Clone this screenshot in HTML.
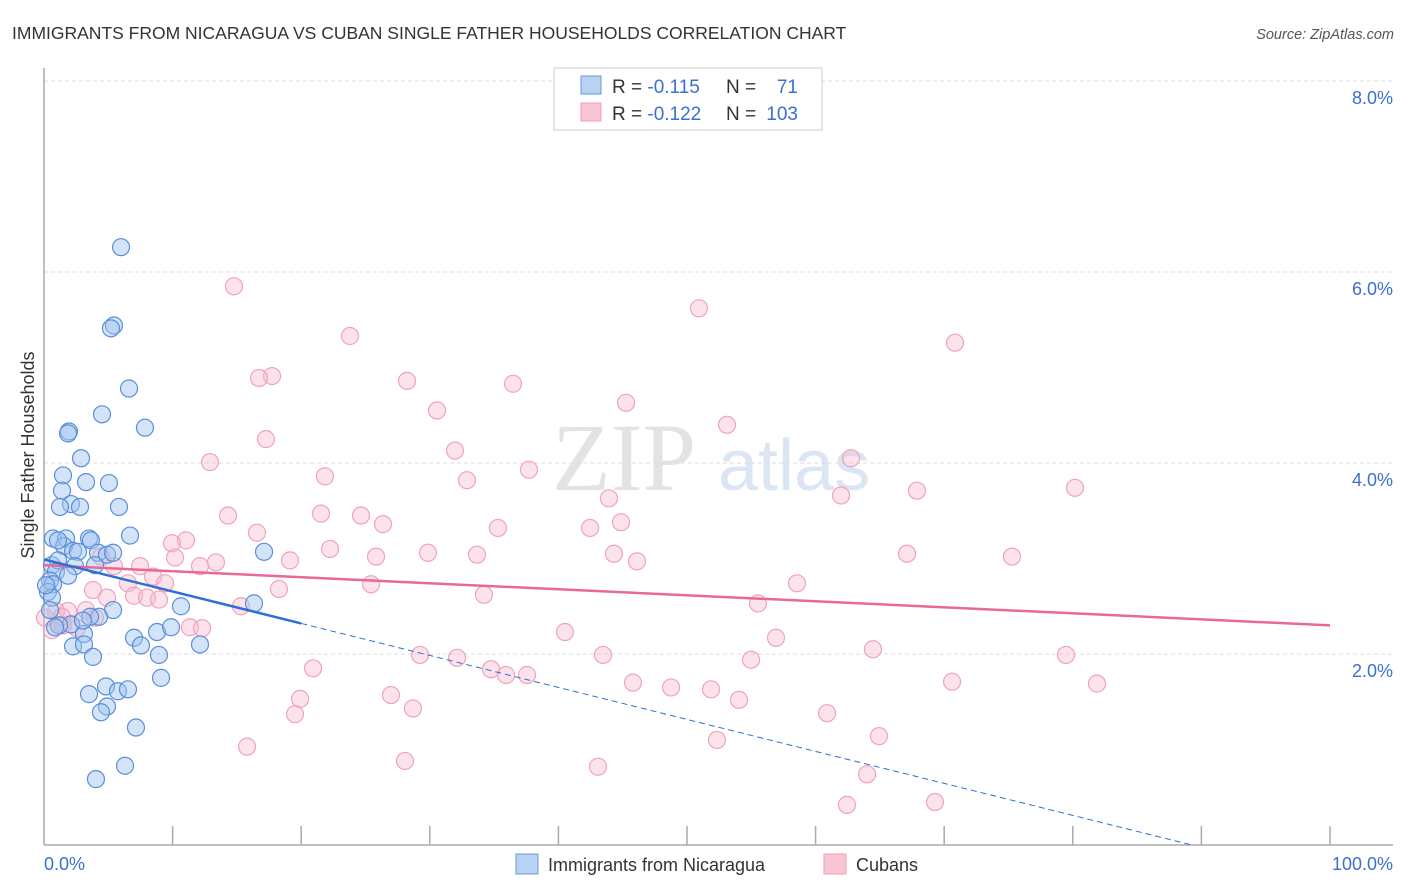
<!DOCTYPE html>
<html><head><meta charset="utf-8"><style>
body{margin:0;background:#fff;font-family:"Liberation Sans",sans-serif;}
svg{display:block}
</style></head><body>
<svg id="chart" width="1406" height="892" viewBox="0 0 1406 892">
<text x="12" y="39" font-size="17.5" fill="#333">IMMIGRANTS FROM NICARAGUA VS CUBAN SINGLE FATHER HOUSEHOLDS CORRELATION CHART</text>
<text x="1394" y="39" font-size="14.5" fill="#555" font-style="italic" text-anchor="end">Source: ZipAtlas.com</text>
<g>
<text x="552" y="490" font-size="96" font-family="Liberation Serif,serif" fill="#e3e3e3">ZIP</text>
<text x="718" y="490" font-size="72" fill="#dbe6f5">atlas</text>
</g>
<g id="grid"></g>
<g id="axes"></g>
<g id="pts"></g>
<g id="trend"></g>
<text transform="translate(34,455) rotate(-90)" font-size="18" fill="#333" text-anchor="middle">Single Father Households</text>
<g>
<rect x="554" y="68" width="268" height="62" fill="#fff" stroke="#ccc"/>
<rect x="581" y="76" width="20" height="18" fill="#b8d2f4" stroke="#6a9ad8"/>
<rect x="581" y="103" width="20" height="18" fill="#f9c6d4" stroke="#ef9fb8"/>
<text x="612" y="93" font-size="19" fill="#333">R = <tspan fill="#3b6fd0">-0.115</tspan></text>
<text x="726" y="93" font-size="19" fill="#333">N = </text><text x="798" y="93" font-size="19" fill="#3b6fd0" text-anchor="end">71</text>
<text x="612" y="120" font-size="19" fill="#333">R = <tspan fill="#3b6fd0">-0.122</tspan></text>
<text x="726" y="120" font-size="19" fill="#333">N = </text><text x="798" y="120" font-size="19" fill="#3b6fd0" text-anchor="end">103</text>
</g>
<g>
<rect x="516" y="854" width="22" height="20" fill="#b8d2f4" stroke="#6a9ad8"/>
<text x="548" y="871" font-size="18" fill="#333">Immigrants from Nicaragua</text>
<rect x="824" y="854" width="22" height="20" fill="#f9c6d4" stroke="#ef9fb8"/>
<text x="856" y="871" font-size="18" fill="#333">Cubans</text>
</g>
</svg>
<script>
const yTicks=[2,4,6,8];
const yTickLabels=["2.0%","4.0%","6.0%","8.0%"];
const xTickLabels=["0.0%","100.0%"];
const blueX=[5.99,5.44,5.21,6.61,4.51,7.85,1.94,1.87,2.88,1.48,3.27,5.05,1.40,2.10,1.24,2.80,5.83,6.69,0.70,1.71,3.50,3.65,1.56,2.26,4.20,4.90,5.37,17.11,0.62,1.09,2.64,2.41,3.97,0.93,1.87,0.47,0.70,0.31,0.62,5.37,4.28,3.58,10.65,16.33,2.10,3.11,1.17,0.86,3.03,8.79,7.00,9.88,7.54,12.13,2.26,3.11,3.81,8.94,9.10,4.82,3.50,5.75,6.53,4.90,4.43,7.15,6.30,4.04,1.09,0.16,0.47];
const blueY=[6.26,5.44,5.41,4.78,4.51,4.37,4.33,4.31,4.05,3.87,3.80,3.79,3.71,3.57,3.54,3.54,3.54,3.24,3.21,3.21,3.21,3.19,3.13,3.08,3.06,3.04,3.06,3.07,2.93,2.98,3.07,2.92,2.93,2.86,2.82,2.77,2.73,2.65,2.59,2.46,2.39,2.39,2.50,2.53,2.31,2.21,2.30,2.28,2.35,2.23,2.17,2.28,2.09,2.10,2.08,2.10,1.97,1.99,1.75,1.66,1.58,1.61,1.63,1.45,1.39,1.23,0.83,0.69,3.19,2.72,2.46];
const pinkX=[14.77,50.93,23.79,70.84,17.73,16.72,28.23,36.47,30.56,45.26,53.11,17.26,31.96,62.75,12.91,21.85,32.89,37.71,80.17,67.88,61.98,43.93,14.31,21.54,24.65,26.36,44.87,35.30,42.46,16.56,11.04,9.95,22.24,29.86,33.67,44.32,46.11,25.82,67.11,75.27,19.13,10.19,13.37,12.13,7.47,5.44,4.43,8.48,9.41,6.53,58.55,25.43,18.27,34.21,3.81,4.90,7.00,8.01,8.94,15.32,55.52,1.87,3.27,0.93,1.40,0.08,0.62,2.57,11.35,12.29,40.51,56.92,64.46,79.47,43.47,29.24,32.12,54.98,20.92,34.76,35.93,37.56,45.80,48.76,51.87,70.61,81.88,19.91,26.98,28.69,54.04,19.52,60.89,64.93,52.33,15.79,28.07,43.08,64.00,62.44,69.28,1.48,3.97];
const pinkY=[5.85,5.62,5.33,5.26,4.91,4.89,4.86,4.83,4.55,4.63,4.40,4.25,4.13,4.05,4.01,3.86,3.82,3.93,3.74,3.71,3.66,3.63,3.45,3.47,3.45,3.36,3.38,3.32,3.32,3.27,3.19,3.16,3.10,3.06,3.04,3.05,2.97,3.02,3.05,3.02,2.98,3.01,2.96,2.92,2.92,2.92,3.02,2.81,2.74,2.74,2.74,2.73,2.68,2.62,2.67,2.59,2.61,2.59,2.57,2.50,2.53,2.45,2.46,2.45,2.39,2.38,2.25,2.27,2.28,2.27,2.23,2.17,2.05,1.99,1.99,1.99,1.96,1.94,1.85,1.84,1.78,1.78,1.70,1.65,1.63,1.71,1.69,1.53,1.57,1.43,1.52,1.37,1.38,1.14,1.10,1.03,0.88,0.82,0.74,0.42,0.45,2.30,2.38];
const blueTrend=[2.99,-0.0335];
const pinkTrend=[2.93,-0.0063];
const X=v=>44+v*12.86, Y=v=>845-v*95.5;
const NS="http://www.w3.org/2000/svg";
function mk(tag,attrs,parent){const e=document.createElementNS(NS,tag);for(const k in attrs)e.setAttribute(k,attrs[k]);parent.appendChild(e);return e;}
const grid=document.getElementById('grid'),axes=document.getElementById('axes');
yTicks.forEach((t,i)=>{
 const l=mk('line',{x1:44,x2:1393,y1:Y(t),y2:Y(t),stroke:'#ddd','stroke-dasharray':'4,3'},grid);
 
 
 const tx=mk('text',{x:1393,y:Y(t)+23,'font-size':18,fill:'#3b6fd0','text-anchor':'end'},axes);
 tx.textContent=yTickLabels[i];
 
 
});
mk('line',{x1:44,x2:44,y1:68,y2:845,stroke:'#aaa','stroke-width':1.5},axes);
mk('line',{x1:44,x2:1393,y1:845,y2:845,stroke:'#aaa','stroke-width':1.5},axes);
for(let k=1;k<=10;k++){const t=mk('line',{x1:X(k*10),x2:X(k*10),y1:826,y2:845,stroke:'#aaa','stroke-width':1.5},axes);}
const xl0=mk('text',{x:44,y:870,'font-size':18,fill:'#3b6fd0'},axes);xl0.textContent=xTickLabels[0];


const xl1=mk('text',{x:1393,y:870,'font-size':18,fill:'#3b6fd0','text-anchor':'end'},axes);xl1.textContent=xTickLabels[1];


const pts=document.getElementById('pts');
pinkX.forEach((x,i)=>{const c=mk('circle',{cx:X(x),cy:Y(pinkY[i]),r:8.5,fill:'rgba(248,185,205,0.4)',stroke:'#f0a3bb','stroke-width':1.2},pts);
 
 });
blueX.forEach((x,i)=>{const c=mk('circle',{cx:X(x),cy:Y(blueY[i]),r:8.5,fill:'rgba(160,196,240,0.45)',stroke:'#5a8fd8','stroke-width':1.2},pts);
 
 });
const tr=document.getElementById('trend');
const pl=mk('line',{x1:X(0),y1:Y(pinkTrend[0]),x2:X(100),y2:Y(pinkTrend[0]+pinkTrend[1]*100),stroke:'#e8689a','stroke-width':2.5},tr);


const bl=mk('line',{x1:X(0),y1:Y(blueTrend[0]),x2:X(20),y2:Y(blueTrend[0]+blueTrend[1]*20),stroke:'#2e6fd6','stroke-width':2.5},tr);


const xe=-blueTrend[0]/blueTrend[1];
const bd=mk('line',{x1:X(20),y1:Y(blueTrend[0]+blueTrend[1]*20),x2:X(xe),y2:Y(0),stroke:'#2e6fd6','stroke-width':1,'stroke-dasharray':'6,4'},tr);


</script>
</body></html>
